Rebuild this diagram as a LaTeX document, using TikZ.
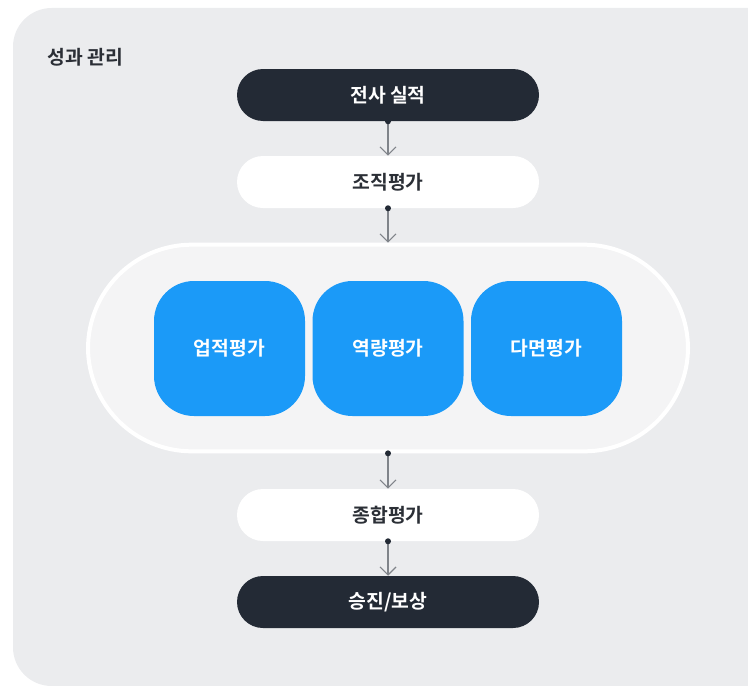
\documentclass[tikz,border=0pt]{standalone}
\usepackage{fontspec}
\setmainfont{Noto Sans CJK KR}[BoldFont={Noto Sans CJK KR Bold}]
\usetikzlibrary{arrows.meta}
\definecolor{bgc}{HTML}{EBECEE}
\definecolor{contc}{HTML}{F4F4F5}
\definecolor{darkc}{HTML}{232A35}
\definecolor{bluec}{HTML}{1B9AF8}
\definecolor{linec}{HTML}{80848A}
\definecolor{titlec}{HTML}{2B2F36}
\tikzset{
  lbl/.style={font=\bfseries\fontsize{14.5}{17}\selectfont},
  darkpill/.style={lbl, fill=darkc, text=white, rounded corners=19.5pt, minimum width=226.5pt, minimum height=39pt, inner sep=0pt},
  whitepill/.style={lbl, fill=white, text=titlec, rounded corners=19.5pt, minimum width=226.5pt, minimum height=39pt, inner sep=0pt},
  bluebox/.style={lbl, fill=bluec, text=white, rounded corners=30pt, minimum width=113.25pt, minimum height=101.25pt, inner sep=0pt},
  contbox/.style={fill=contc, draw=white, line width=3pt, rounded corners=78pt, minimum width=450pt, minimum height=155pt, inner sep=0pt},
  flow/.style={draw=linec, line width=0.8pt, -{Straight Barb[length=6pt,width=12pt,line width=0.8pt]}},
  startdot/.style={fill=darkc, circle, inner sep=0pt, minimum size=4.5pt}
}
\begin{document}
\begin{tikzpicture}[x=0.75pt,y=-0.75pt]
\useasboundingbox (0,0) rectangle (748,685);
\begin{scope}
\clip (0,0) rectangle (748,685);
\fill[bgc, rounded corners=29pt] (13,8) rectangle (790,686);
\end{scope}
\node[anchor=west, text=titlec, font=\bfseries\fontsize{14.5}{17}\selectfont, inner sep=0pt] (title) at (47,57) {성과 관리};
\node[darkpill] (n1) at (388,95) {전사 실적};
\node[whitepill] (n2) at (388,182) {조직평가};
\node[contbox] (cont) at (388,348) {};
\node[bluebox] (b1) at (229.5,348.5) {업적평가};
\node[bluebox] (b2) at (388,348.5) {역량평가};
\node[bluebox] (b3) at (546.5,348.5) {다면평가};
\node[whitepill] (n3) at (388,515) {종합평가};
\node[darkpill] (n4) at (388,602) {승진/보상};
\foreach \a/\b in {n1/n2,n2/cont,cont/n3,n3/n4}{
  \draw[flow] (\a.south) -- (\b.north);
  \node[startdot] at (\a.south) {};
}
\end{tikzpicture}
\end{document}
